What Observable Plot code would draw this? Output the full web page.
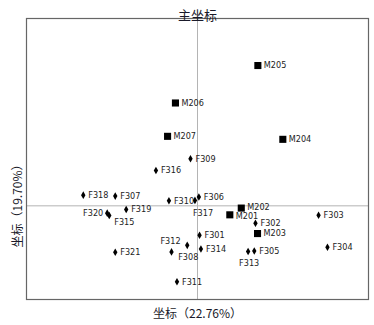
<!DOCTYPE html>
<html>
<head>
<meta charset="utf-8">
<script src="https://cdn.jsdelivr.net/npm/d3@7"></script>
<script src="https://cdn.jsdelivr.net/npm/@observablehq/plot@0.6"></script>
<style>
  html, body { margin: 0; padding: 0; background: #fff; }
  #chart svg { display: block; }
</style>
</head>
<body>
<div id="chart"></div>
<script>
// Samples (M = squares, F = diamonds)
const names = ["M205","M206","M207","M204","M202","M201","M203",
  "F309","F316","F318","F307","F310","F306","F317","F319","F320","F315",
  "F312","F308","F301","F314","F302","F313","F305","F303","F304","F321","F311"];
const pc1 = [0.353,-0.129,-0.175,0.499,0.256,0.189,0.351,
  -0.041,-0.243,-0.668,-0.481,-0.167,0.008,-0.015,-0.417,-0.528,-0.516,
  -0.152,-0.060,0.012,0.020,0.339,0.296,0.332,0.708,0.760,-0.481,-0.120];
const pc2 = [0.749,0.549,0.371,0.355,-0.012,-0.048,-0.148,
  0.251,0.189,0.057,0.052,0.027,0.047,0.029,-0.020,-0.039,-0.052,
  -0.246,-0.211,-0.157,-0.230,-0.093,-0.244,-0.241,-0.050,-0.221,-0.248,-0.405];
const titleText = "主坐标";
const xLabel = "坐标（22.76%）";
const yLabel = "坐标（19.70%）";
// label placement groups
const labelLeft = ["F320"];
const labelBelowRight = ["F315"];
const labelBelowStart = ["F317"];
const labelBelowMid = ["F308","F313"];
const labelAbove = ["F312"];
const labelRaised = ["M202"];
const labelLowered = ["M201"];

const data = names.map((n, i) => ({name: n, x: pc1[i], y: pc2[i], group: n[0]}));
const special = new Set([...labelLeft, ...labelBelowRight, ...labelBelowStart, ...labelBelowMid, ...labelAbove, ...labelRaised, ...labelLowered]);
const inList = (l) => data.filter(d => l.includes(d.name));
const labFont = "'Liberation Sans Narrow','DejaVu Sans Condensed',sans-serif";
const cjkFont = "'Noto Sans CJK SC',sans-serif";
const fs = 9;
const fc = "#222";

const plot = Plot.plot({
  width: 374,
  height: 325,
  marginLeft: 26,
  marginRight: 6,
  marginTop: 18,
  marginBottom: 26,
  x: {domain: [-1, 1], axis: null},
  y: {domain: [-0.5, 1], axis: null},
  style: {fontFamily: labFont, background: "#fff"},
  marks: [
    Plot.ruleX([0], {stroke: "#b4b4b4", strokeWidth: 1}),
    Plot.ruleY([0], {stroke: "#b4b4b4", strokeWidth: 1}),
    Plot.frame({stroke: "#666", strokeWidth: 1.2}),
    Plot.dot(data.filter(d => d.group === "M"), {x: "x", y: "y", symbol: "square", r: 4, fill: "#000", stroke: "none"}),
    Plot.dot(data.filter(d => d.group === "F"), {x: "x", y: "y", symbol: "diamond", r: 2.3, fill: "#000", stroke: "none"}),
    Plot.text(data.filter(d => !special.has(d.name) && d.group === "F"), {x: "x", y: "y", text: "name", textAnchor: "start", dx: 5, fontSize: fs, fill: fc}),
    Plot.text(data.filter(d => !special.has(d.name) && d.group === "M"), {x: "x", y: "y", text: "name", textAnchor: "start", dx: 6, fontSize: fs, fill: fc}),
    Plot.text(inList(labelRaised), {x: "x", y: "y", text: "name", textAnchor: "start", dx: 6, dy: -1, fontSize: fs, fill: fc}),
    Plot.text(inList(labelLowered), {x: "x", y: "y", text: "name", textAnchor: "start", dx: 6, dy: 1.5, fontSize: fs, fill: fc}),
    Plot.text(inList(labelLeft), {x: "x", y: "y", text: "name", textAnchor: "end", dx: -4, fontSize: fs, fill: fc}),
    Plot.text(inList(labelBelowRight), {x: "x", y: "y", text: "name", textAnchor: "start", dx: 5, dy: 7, fontSize: fs, fill: fc}),
    Plot.text(inList(labelBelowStart), {x: "x", y: "y", text: "name", textAnchor: "start", dx: -2, dy: 13, fontSize: fs, fill: fc}),
    Plot.text(inList(labelBelowMid), {x: "x", y: "y", text: "name", textAnchor: "middle", dx: 1, dy: 12, fontSize: fs, fill: fc}),
    Plot.text(inList(labelAbove), {x: "x", y: "y", text: "name", textAnchor: "middle", dx: -1, dy: -11, fontSize: fs, fill: fc}),
    Plot.text([titleText], {frameAnchor: "top", dy: -8, fontSize: 13, fontFamily: cjkFont, fill: "#1a1a2a"}),
    Plot.text([xLabel], {frameAnchor: "bottom", dy: 18, fontSize: 12, fontFamily: cjkFont, fill: "#1a1a2a"}),
    Plot.text([yLabel], {frameAnchor: "left", textAnchor: "middle", dx: -8, dy: 44, rotate: -90, fontSize: 12, fontFamily: cjkFont, fill: "#1a1a2a"})
  ]
});
document.getElementById("chart").append(plot);
</script>
</body>
</html>
